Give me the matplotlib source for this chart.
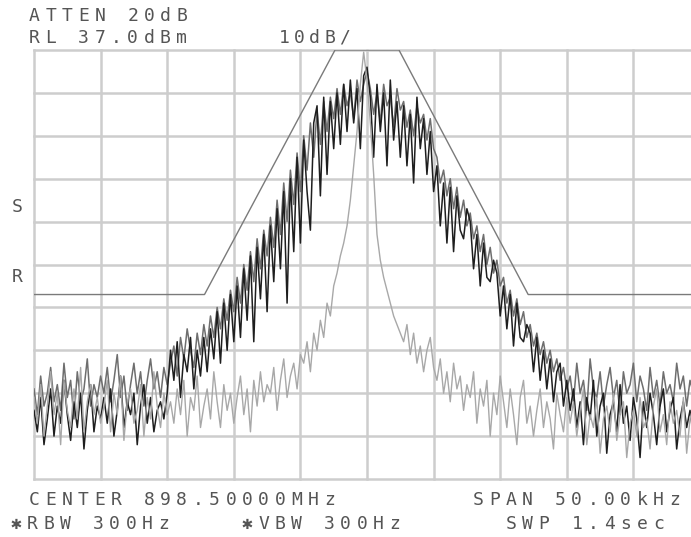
import numpy as np
import matplotlib
matplotlib.use("Agg")
import matplotlib.pyplot as plt

W, H = 691, 537

# ---------------- data ----------------
freq_khz = np.linspace(-25, 25, 201)  # offset from centre, kHz

trace_black = [
    -47,-52,-44,-55,-49,-42,-53,-46,-50,-40,-48,-54,-45,-51,-43,-56,-47,-41,-52,-46,-49,
    -44,-50,-42,-53,-47,-39,-51,-45,-48,-43,-55,-46,-41,-50,-44,-52,-47,-45,-49,-43,
    -33,-40,-31,-44,-34,-38,-30,-42,-33,-39,
    -30,-38,-28,-35,-24,-36,-22,-33,-20,-31,
    -18,-30,-14,-26,-11,-31,-9,-21,-6,-24,
    -4,-17,0,-14,4,-22,7,-10,12,-8,
    16,4,-5,20,24,3,26,8,25,14,
    27,15,29,18,30,20,28,14,31,33,
    26,12,29,18,27,10,30,16,25,12,
    24,10,22,6,26,14,21,8,18,4,
    10,-4,6,-8,5,-10,3,-5,-7,0,
    -3,-14,-6,-18,-8,-16,-17,-12,-15,-25,
    -18,-28,-20,-32,-22,-30,-31,-27,-29,-38,
    -30,-40,-33,-42,-35,-45,-38,-36,-46,-40,
    -47,-42,-51,-45,-55,-44,-49,-40,-53,-46,-43,-57,-48,-45,-52,-41,-50,-46,-54,-44,
    -49,-58,-45,-51,-43,-48,-55,-46,-42,-52,-47,-44,-56,-49,-45,-51,-47,-53,-46,-50,
]

trace_gray = [
    -42,-48,-39,-46,-43,-37,-45,-41,-47,-36,-44,-40,-49,-38,-45,-42,-35,-46,-41,-44,-39,
    -43,-37,-45,-40,-34,-44,-39,-47,-41,-36,-43,-38,-46,-40,-35,-42,-38,-44,-37,-41,
    -36,-32,-39,-30,-35,-28,-33,-37,-29,-34,
    -27,-32,-25,-30,-23,-28,-21,-26,-19,-24,
    -16,-22,-13,-19,-10,-17,-7,-14,-5,-11,
    -2,-9,2,-6,6,-3,9,1,13,4,
    17,9,20,12,23,15,25,18,26,21,
    28,22,29,24,27,21,30,25,29,32,
    28,22,27,20,29,24,26,19,28,23,
    25,19,23,17,24,20,22,16,21,14,
    12,6,9,3,7,0,5,-2,2,-4,
    -1,-7,-4,-10,-6,-13,-9,-15,-12,-18,
    -16,-22,-19,-25,-21,-27,-24,-30,-27,-32,
    -29,-34,-31,-36,-33,-38,-35,-40,-37,-42,
    -39,-45,-36,-43,-40,-47,-35,-42,-44,-38,-46,-41,-37,-44,-40,-48,-38,-43,-41,-36,
    -45,-39,-42,-47,-37,-44,-40,-46,-38,-43,-41,-45,-36,-42,-39,-46,-40,-43,-38,-44,
]

trace_carrier = [
    -44,-50,-41,-53,-46,-38,-48,-43,-55,-40,-47,-51,-42,-49,-37,-52,-45,-41,-48,-44,-50,
    -46,-40,-52,-43,-48,-39,-54,-45,-42,-50,-47,-41,-53,-44,-49,-38,-46,-51,-43,-48,
    -45,-50,-42,-48,-40,-53,-44,-47,-39,-51,
    -46,-42,-49,-38,-45,-51,-41,-47,-43,-50,
    -44,-39,-48,-42,-52,-40,-46,-38,-45,-41,
    -43,-37,-47,-40,-35,-44,-39,-36,-42,-34,
    -36,-31,-38,-29,-33,-26,-30,-22,-25,-18,
    -15,-11,-8,-4,2,10,18,29,36.5,30,
    20,8,-6,-12,-16,-19,-22,-25,-27,-29,
    -31,-27,-34,-29,-36,-32,-38,-33,-30,-37,
    -40,-35,-43,-38,-45,-36,-42,-39,-47,-41,
    -44,-38,-50,-42,-46,-40,-53,-43,-48,-39,
    -45,-51,-42,-48,-55,-44,-40,-50,-46,-53,
    -47,-42,-51,-45,-49,-56,-43,-48,-52,-44,
    -50,-45,-53,-47,-42,-55,-48,-51,-44,-57,-49,-46,-52,-43,-54,-48,-45,-58,-50,-47,
    -53,-44,-51,-49,-56,-46,-42,-52,-48,-55,-45,-50,-47,-53,-44,-57,-49,-46,-51,-48,
]

mask_freq = [-25, -12.2, -2.4, 2.4, 12.1, 25]
mask_level = [-20, -20, 37, 37, -20, -20]

ref_level = 37.0
db_per_div = 10
span_khz = 50

header_lines = ["ATTEN 20dB", "RL 37.0dBm"]
scale_label = "10dB/"
footer_left = ["CENTER 898.50000MHz", "\u2731RBW 300Hz"]
footer_mid = "\u2731VBW 300Hz"
footer_right = ["SPAN 50.00kHz", "SWP 1.4sec"]
marker_labels = ["S", "R"]
marker_levels = [0.3, -15.8]

# ---------------- figure ----------------
fig = plt.figure(figsize=(W / 100, H / 100), dpi=100)
fig.patch.set_facecolor("white")
ax = fig.add_axes([34 / W, (H - 479) / H, 666 / W, 429 / H])
ax.set_xlim(-span_khz / 2, span_khz / 2)
ax.set_ylim(ref_level - 10 * db_per_div, ref_level)
ax.set_axis_off()

grid_c = "#cdcdcd"
for k in range(11):
    ax.axvline(-span_khz / 2 + k * span_khz / 10, color=grid_c, lw=1.8, zorder=1, clip_on=False)
    ax.axhline(ref_level - k * db_per_div, color=grid_c, lw=1.8, zorder=1, clip_on=False)

ax.plot(mask_freq, mask_level, color="#7a7a7a", lw=1.0, zorder=2)
ax.plot(freq_khz, trace_gray, color="#6e6e6e", lw=1.1, zorder=3)
ax.plot(freq_khz, trace_black, color="#1e1e1e", lw=1.1, zorder=4)
ax.plot(freq_khz, trace_carrier, color="#a8a8a8", lw=1.0, zorder=5)

FAM = ["DejaVu Sans Mono", "DejaVu Sans"]
TXT_C = "#555555"
PITCH = 16.4


def draw_text(s, x0, y_base, pitch=PITCH, size=13):
    for i, ch in enumerate(s):
        if ch == " ":
            continue
        fig.text((x0 + pitch * (i + 0.5)) / W, 1 - y_base / H, ch,
                 ha="center", va="baseline", fontsize=size, family=FAM, color=TXT_C)


draw_text(header_lines[0], 26, 21)
draw_text(header_lines[1], 26, 43)
draw_text(scale_label, 277, 43, pitch=15)
draw_text(footer_left[0], 26, 505)
draw_text(footer_left[1], 8, 529)
draw_text(footer_mid, 239, 529)
draw_text(footer_right[0], 470, 505)
draw_text(footer_right[1], 503, 529)

for lab, lev in zip(marker_labels, marker_levels):
    y_pix = 50 + (ref_level - lev) / db_per_div * 42.9
    fig.text(17 / W, 1 - y_pix / H, lab, ha="center", va="center",
             fontsize=13, family=FAM, color=TXT_C)

fig.savefig("out.png", dpi=100)
